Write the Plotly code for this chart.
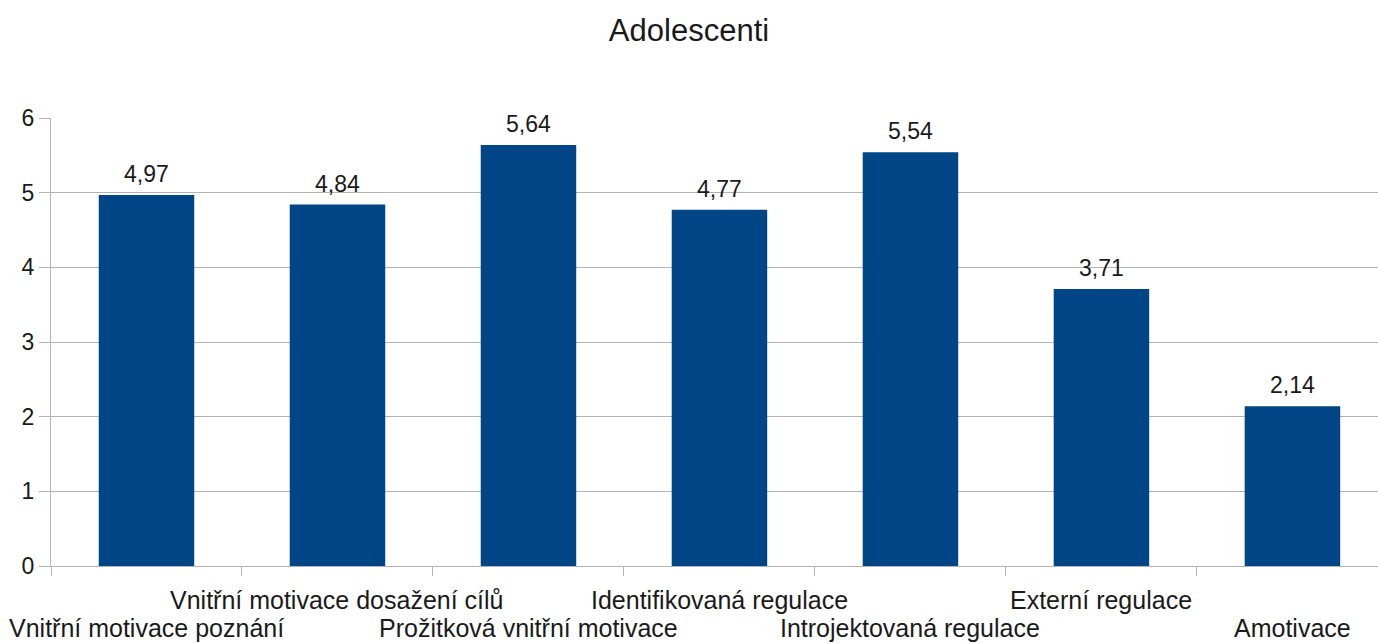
import plotly.graph_objects as go

# Motivation subscales and mean scores
categories = [
    "Vnitřní motivace poznání",
    "Vnitřní motivace dosažení cílů",
    "Prožitková vnitřní motivace",
    "Identifikovaná regulace",
    "Introjektovaná regulace",
    "Externí regulace",
    "Amotivace",
]
values = [4.97, 4.84, 5.64, 4.77, 5.54, 3.71, 2.14]
y_ticks = [0, 1, 2, 3, 4, 5, 6]

FONT = "Liberation Sans, Arial, sans-serif"
TEXT = "#1a1a1a"
GRID = "#b3b3b3"

positions = list(range(len(categories)))

fig = go.Figure(
    go.Bar(
        x=positions,
        y=values,
        width=0.5,
        marker=dict(color="#004586", line=dict(width=0)),
    )
)

annotations = []

# Value labels above each bar (decimal comma)
for i, v in zip(positions, values):
    annotations.append(
        dict(
            x=i, y=v, xref="x", yref="y",
            text=f"{v:.2f}".replace(".", ","), showarrow=False,
            xanchor="center", yanchor="middle", yshift=21,
            font=dict(family=FONT, size=23, color=TEXT),
        )
    )

# Category labels alternate between two rows under the axis
for i, name in zip(positions, categories):
    annotations.append(
        dict(
            x=i, y=0, xref="x", yref="y",
            text=name, showarrow=False,
            xanchor="center", yanchor="middle",
            yshift=-34 if i % 2 else -62,
            font=dict(family=FONT, size=25, color=TEXT),
        )
    )

fig.update_layout(
    width=1378, height=643,
    margin=dict(l=51, r=0, t=118, b=77),
    paper_bgcolor="white", plot_bgcolor="white",
    showlegend=False,
    title=dict(
        text="Adolescenti", x=0.5, xanchor="center", y=0.953, yanchor="middle",
        font=dict(family=FONT, size=31, color=TEXT),
    ),
    annotations=annotations,
    xaxis=dict(
        range=[-0.5, 6.448],
        tickvals=[p - 0.5 for p in positions] + [len(positions) - 0.5],
        showticklabels=False,
        ticks="outside", ticklen=9, tickcolor=GRID, tickwidth=1,
        showgrid=False, zeroline=False,
        showline=True, linecolor=GRID, linewidth=1,
    ),
    yaxis=dict(
        range=[0, 6],
        tickvals=y_ticks,
        ticks="outside", ticklen=11, tickcolor=GRID, tickwidth=1,
        tickfont=dict(family=FONT, size=23, color=TEXT),
        showgrid=True, gridcolor=GRID, gridwidth=1,
        zeroline=False,
        showline=True, linecolor=GRID, linewidth=1,
    ),
)

fig.write_html("out.html")
